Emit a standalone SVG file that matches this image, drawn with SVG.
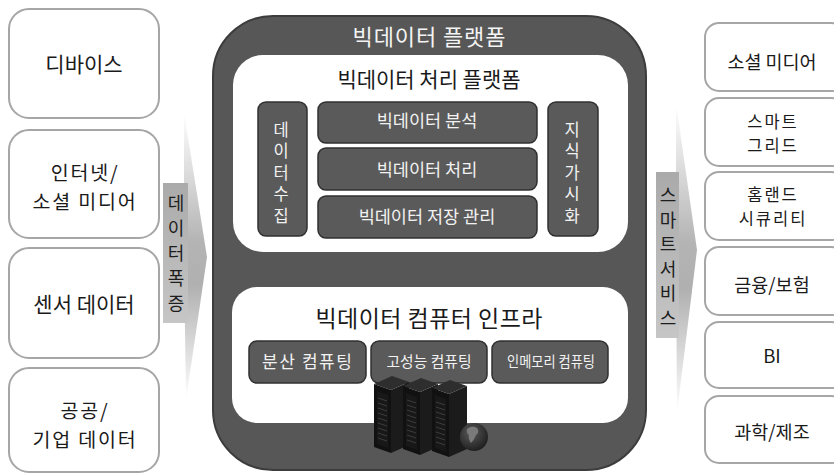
<svg xmlns="http://www.w3.org/2000/svg" width="834" height="474" viewBox="0 0 834 474">
  <style>
    text { font-family: "Noto Sans CJK KR", "Noto Sans", sans-serif; text-anchor: middle; }
    .src { fill: #ffffff; stroke: #a6a6a6; stroke-width: 2; }
    .src-t { font-size: 21px; fill: #1a1a1a; }
    .src-t2 { font-size: 19.5px; letter-spacing: 1.8px; fill: #1a1a1a; }
    .svc-t { font-size: 18.5px; fill: #1a1a1a; }
    .svc-t2 { font-size: 16.5px; letter-spacing: 2px; fill: #1a1a1a; }
    .frame { fill: #575757; stroke: #3c3c3c; stroke-width: 2; }
    .panel { fill: #ffffff; }
    .blk { fill: #5a5a5a; stroke: #303030; stroke-width: 1.5; }
    .blk-t { fill: #f2f2f2; font-size: 17.5px; }
    .col-t { fill: #f2f2f2; font-size: 16.5px; writing-mode: vertical-rl; letter-spacing: 5px; }
    .band { fill: url(#bandGrad); }
    .tag { fill: url(#tagGrad); }
    .tag-t { fill: #1e1e1e; font-size: 18px; writing-mode: vertical-rl; }
    .vent { stroke: #3c3c3c; stroke-width: 1; }
  </style>
  <defs>
    <linearGradient id="bandGrad" x1="0" y1="0" x2="0" y2="1">
      <stop offset="0" stop-color="#ffffff"/>
      <stop offset="0.45" stop-color="#b4b4b4"/>
      <stop offset="0.6" stop-color="#b0b0b0"/>
      <stop offset="1" stop-color="#ffffff"/>
    </linearGradient>
    <linearGradient id="tagGrad" x1="0" y1="0" x2="0" y2="1">
      <stop offset="0" stop-color="#aaaaaa"/>
      <stop offset="1" stop-color="#c6c6c6"/>
    </linearGradient>
    <radialGradient id="globeGrad" cx="0.4" cy="0.35" r="0.7">
      <stop offset="0" stop-color="#5a5a5a"/>
      <stop offset="1" stop-color="#1c1c1c"/>
    </radialGradient>
    <g id="tower">
      <polygon points="374,384 392,376 409,382 391,390" fill="#2e2e2e"/>
      <polygon points="374,384 391,390 391,453 374,447" fill="#111111"/>
      <polygon points="391,390 409,382 409,445 391,453" fill="#1b1b1b"/>
      <polygon points="377,391 388,395 388,448 377,444" fill="#181818"/>
      <g class="vent">
        <line x1="378" y1="398" x2="387" y2="401"/>
        <line x1="378" y1="403" x2="387" y2="406"/>
        <line x1="378" y1="408" x2="387" y2="411"/>
        <line x1="378" y1="413" x2="387" y2="416"/>
        <line x1="378" y1="418" x2="387" y2="421"/>
        <line x1="378" y1="423" x2="387" y2="426"/>
        <line x1="378" y1="428" x2="387" y2="431"/>
        <line x1="378" y1="433" x2="387" y2="436"/>
        <line x1="378" y1="438" x2="387" y2="441"/>
      </g>
    </g>
  </defs>

  <!-- data sources -->
  <g id="src-device">
    <rect class="src" x="9" y="9" width="150" height="109" rx="20"/>
    <text class="src-t" x="84" y="72">디바이스</text>
  </g>
  <g id="src-internet">
    <rect class="src" x="9" y="130" width="150" height="108" rx="20"/>
    <text class="src-t2" x="85" y="180">인터넷/<tspan x="85" dy="28.5">소셜 미디어</tspan></text>
  </g>
  <g id="src-sensor">
    <rect class="src" x="9" y="248" width="150" height="110" rx="20"/>
    <text class="src-t" x="84" y="312">센서 데이터</text>
  </g>
  <g id="src-public">
    <rect class="src" x="9" y="368" width="150" height="104" rx="20"/>
    <text class="src-t2" x="85" y="418">공공/<tspan x="85" dy="28.5">기업 데이터</tspan></text>
  </g>

  <!-- flow bands -->
  <g id="connectors">
    <g id="flow-in">
      <polygon class="band" points="184,112 207,257 186,400 184,257"/>
      <rect class="tag" x="163" y="183" width="25" height="140"/>
      <text class="tag-t" x="176" y="257" letter-spacing="7">데이터폭증</text>
    </g>
    <g id="flow-out">
      <polygon class="band" points="676,103 697,250 677,413 676,250"/>
      <rect class="tag" x="656" y="172" width="23" height="166"/>
      <text class="tag-t" x="668" y="260" letter-spacing="6.5">스마트서비스</text>
    </g>
  </g>

  <!-- big data platform -->
  <g id="platform">
    <rect class="frame" x="213" y="16" width="433" height="454" rx="60"/>
    <text x="429" y="45" fill="#f4f4f4" font-size="22" textLength="153" lengthAdjust="spacing">빅데이터 플랫폼</text>

    <g id="processing">
      <rect class="panel" x="233" y="55" width="395" height="197" rx="30"/>
      <text x="429" y="87" fill="#1a1a1a" font-size="21" textLength="183" lengthAdjust="spacing">빅데이터 처리 플랫폼</text>

      <g id="collect">
        <rect class="blk" x="258" y="102" width="49" height="134" rx="8"/>
        <text class="col-t" x="281" y="175">데이터수집</text>
      </g>
      <g id="analysis">
        <rect class="blk" x="318" y="102" width="219" height="41" rx="8"/>
        <text class="blk-t" x="427" y="127">빅데이터 분석</text>
      </g>
      <g id="process">
        <rect class="blk" x="318" y="148" width="219" height="42" rx="8"/>
        <text class="blk-t" x="427" y="176">빅데이터 처리</text>
      </g>
      <g id="storage">
        <rect class="blk" x="318" y="196" width="219" height="42" rx="8"/>
        <text class="blk-t" x="427" y="223">빅데이터 저장 관리</text>
      </g>
      <g id="visual">
        <rect class="blk" x="548" y="102" width="50" height="134" rx="8"/>
        <text class="col-t" x="572" y="175">지식가시화</text>
      </g>
    </g>

    <g id="infra">
      <rect class="panel" x="232" y="287" width="396" height="136" rx="25"/>
      <text x="429" y="327" fill="#1a1a1a" font-size="23" textLength="227" lengthAdjust="spacing">빅데이터 컴퓨터 인프라</text>
      <g id="distributed">
        <rect class="blk" x="249" y="341" width="117" height="42" rx="8"/>
        <text x="307" y="368" fill="#f2f2f2" font-size="17" textLength="90" lengthAdjust="spacing">분산 컴퓨팅</text>
      </g>
      <g id="hpc">
        <rect class="blk" x="371" y="341" width="116" height="42" rx="8"/>
        <text x="429" y="367" fill="#f2f2f2" font-size="14.5" textLength="85" lengthAdjust="spacingAndGlyphs">고성능 컴퓨팅</text>
      </g>
      <g id="inmemory">
        <rect class="blk" x="492" y="341" width="116" height="42" rx="8"/>
        <text x="551" y="367" fill="#f2f2f2" font-size="14.5" textLength="88" lengthAdjust="spacingAndGlyphs">인메모리 컴퓨팅</text>
      </g>
      <g id="servers">
        <use href="#tower"/>
        <use href="#tower" transform="translate(29,2)"/>
        <use href="#tower" transform="translate(58,4)"/>
        <circle cx="474" cy="437" r="14" fill="url(#globeGrad)"/>
        <path d="M467,429 q5,-4 10,-1 q3,4 -1,7 q-2,5 -5,8 q-3,-4 -2,-8 q-3,-2 -2,-6 z" fill="#7a7a7a"/>
      </g>
    </g>
  </g>

  <!-- smart services -->
  <g id="svc-social">
    <rect class="src" x="705" y="23" width="140" height="68" rx="14"/>
    <text class="svc-t" x="772" y="69">소셜 미디어</text>
  </g>
  <g id="svc-grid">
    <rect class="src" x="705" y="98" width="140" height="68" rx="14"/>
    <text class="svc-t2" x="773" y="128">스마트<tspan x="773" dy="24">그리드</tspan></text>
  </g>
  <g id="svc-security">
    <rect class="src" x="705" y="172" width="140" height="68" rx="14"/>
    <text class="svc-t2" x="773" y="201">홈랜드<tspan x="773" dy="24">시큐리티</tspan></text>
  </g>
  <g id="svc-finance">
    <rect class="src" x="705" y="247" width="140" height="68" rx="14"/>
    <text class="svc-t" x="772" y="292">금융/보험</text>
  </g>
  <g id="svc-bi">
    <rect class="src" x="705" y="322" width="140" height="66" rx="14"/>
    <text class="svc-t" x="772" y="363" font-size="17">BI</text>
  </g>
  <g id="svc-science">
    <rect class="src" x="705" y="396" width="140" height="67" rx="14"/>
    <text class="svc-t" x="772" y="439">과학/제조</text>
  </g>
</svg>
